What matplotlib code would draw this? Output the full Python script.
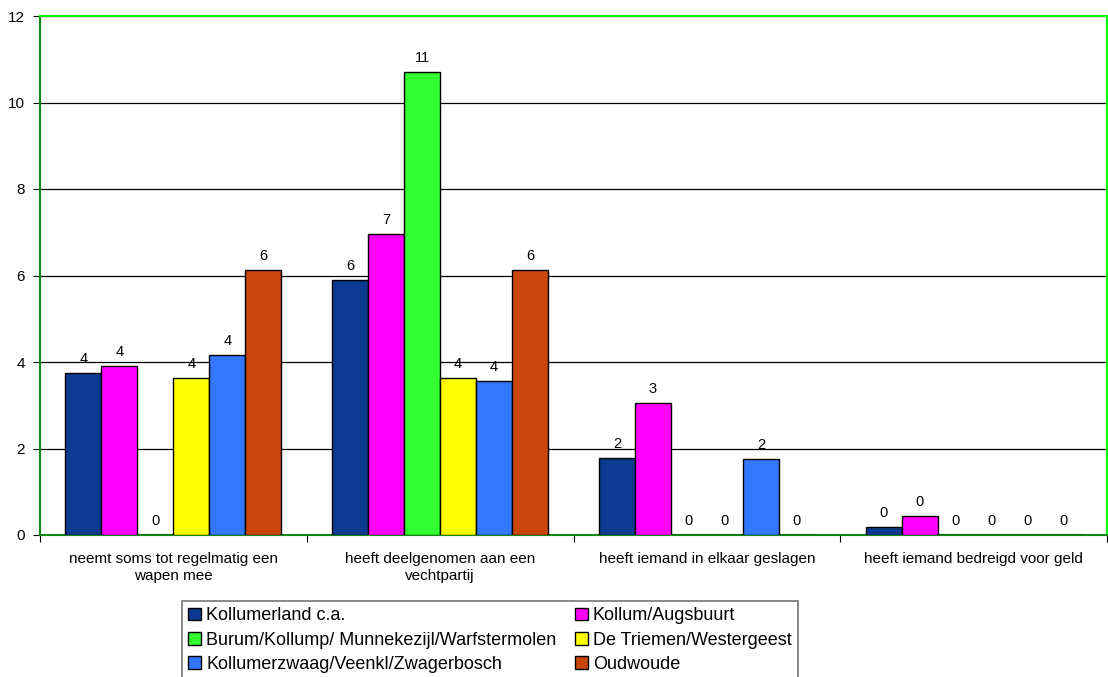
import matplotlib
matplotlib.use("Agg")
import matplotlib.pyplot as plt
import numpy as np
from matplotlib.patches import Patch

plt.rcParams['font.family'] = ['Liberation Sans', 'DejaVu Sans']

categories = ["neemt soms tot regelmatig een\nwapen mee",
              "heeft deelgenomen aan een\nvechtpartij",
              "heeft iemand in elkaar geslagen",
              "heeft iemand bedreigd voor geld"]
series_names = ["Kollumerland c.a.", "Kollum/Augsbuurt",
                "Burum/Kollump/ Munnekezijl/Warfstermolen", "De Triemen/Westergeest",
                "Kollumerzwaag/Veenkl/Zwagerbosch", "Oudwoude"]
values = {
    "Kollumerland c.a.": [3.75, 5.90, 1.78, 0.18],
    "Kollum/Augsbuurt": [3.91, 6.96, 3.05, 0.44],
    "Burum/Kollump/ Munnekezijl/Warfstermolen": [0.0, 10.70, 0.0, 0.0],
    "De Triemen/Westergeest": [3.63, 3.63, 0.0, 0.0],
    "Kollumerzwaag/Veenkl/Zwagerbosch": [4.16, 3.56, 1.76, 0.0],
    "Oudwoude": [6.13, 6.13, 0.0, 0.0],
}
colors = ["#0c3a91", "#ff00ff", "#33ff33", "#ffff00", "#3377ff", "#c8460e"]
yticks = [0, 2, 4, 6, 8, 10, 12]

W, H = 1108, 677
fig = plt.figure(figsize=(W/100, H/100), dpi=100)
ax = fig.add_axes([40/W, 1-535/H, (1107-40)/W, (535-16)/H])

n = len(series_names)
bw = 36/267
x = np.arange(len(categories))
for i, name in enumerate(series_names):
    off = (i - (n-1)/2) * bw
    bars = ax.bar(x + off, values[name], bw, color=colors[i], edgecolor='black',
                  linewidth=1.0, zorder=3)
    ax.bar_label(bars, labels=[f"{round(v):d}" for v in values[name]],
                 padding=5, fontsize=10.5, zorder=4)

ax.set_xlim(-0.5, len(categories)-0.5)
ax.set_ylim(0, 12)
ax.set_yticks(yticks)
ax.set_yticklabels([str(t) for t in yticks], fontsize=11)
ax.yaxis.grid(True, color='black', linewidth=0.9, zorder=0)
ax.set_axisbelow(True)
ax.set_xticks(np.arange(len(categories)+1) - 0.5, minor=False)
ax.set_xticklabels([])
ax.set_xticks(x, minor=True)
ax.set_xticklabels(categories, minor=True, fontsize=11, linespacing=1.3)
ax.tick_params(axis='x', which='minor', length=0, pad=12)
ax.tick_params(axis='x', which='major', length=5, color='black', direction='out')
ax.tick_params(axis='y', length=5, color='black', pad=6)

for s in ['top', 'right']:
    ax.spines[s].set_color('#00ff00')
    ax.spines[s].set_linewidth(1.5)
for s in ['left', 'bottom']:
    ax.spines[s].set_color('#118811')
    ax.spines[s].set_linewidth(1.5)

order = [0, 2, 4, 1, 3, 5]
handles = [Patch(facecolor=colors[k], edgecolor='black', linewidth=1.0) for k in order]
labels = [series_names[k] for k in order]
leg = fig.legend(handles, labels, loc='upper left',
                 bbox_to_anchor=(182/W, 1-601/H), ncol=2, fontsize=13,
                 frameon=True, fancybox=False, edgecolor='#555555',
                 handlelength=0.72, handleheight=0.72, handletextpad=0.28,
                 columnspacing=1.0, labelspacing=0.4, borderpad=0.35,
                 borderaxespad=0)
leg.get_frame().set_linewidth(1.2)

fig.savefig("out.png", dpi=100)
